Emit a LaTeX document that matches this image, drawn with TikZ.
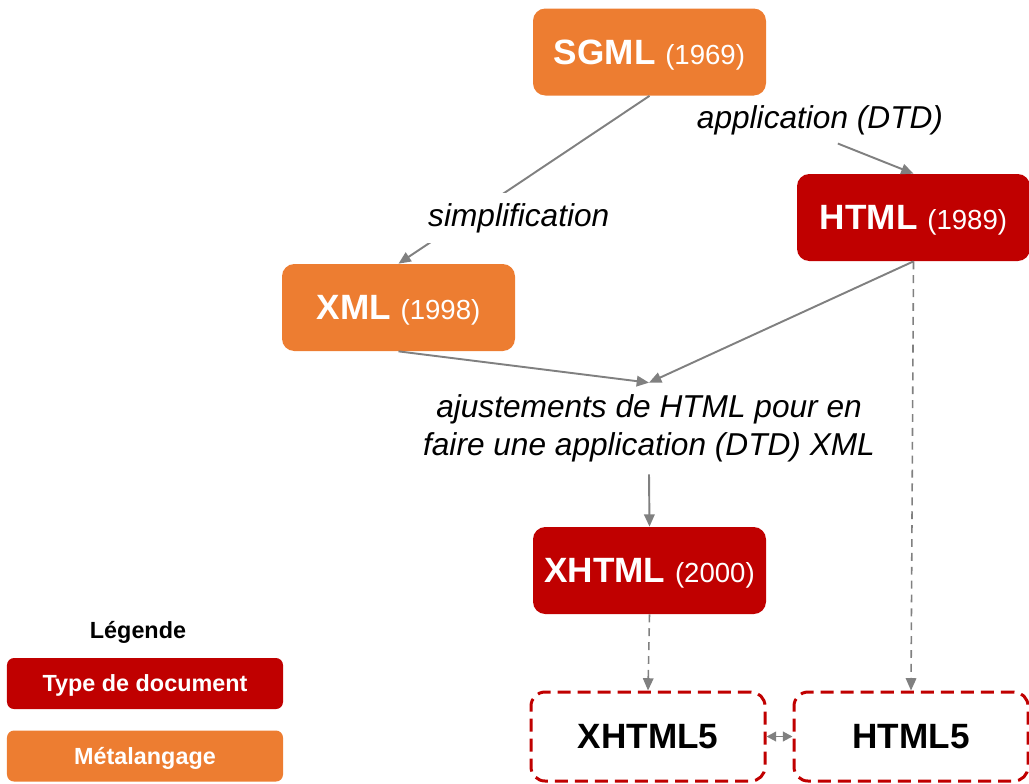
\documentclass[tikz,border=0pt]{standalone}
\usepackage{fontspec}
\setmainfont{Liberation Sans}
\usepackage{xcolor}
\usetikzlibrary{arrows.meta}

\definecolor{docred}{HTML}{C00000}
\definecolor{metaorange}{HTML}{ED7D31}
\definecolor{arrowgray}{HTML}{808080}
\newcommand{\yearof}[1]{{\fontsize{15.7}{18}\selectfont\mdseries (#1)}}

\begin{document}
\begin{tikzpicture}[
    box/.style={rounded corners=7pt,minimum width=4.66cm,minimum height=1.74cm,inner sep=0pt,
      text depth=0pt,text=white,font=\fontsize{20}{24}\selectfont\bfseries},
    doc/.style={box,fill=docred},
    meta/.style={box,fill=metaorange},
    future/.style={draw=docred,line width=1.7pt,dash pattern=on 7.4pt off 4pt,rounded corners=8pt,
      minimum width=4.68cm,minimum height=1.78cm,inner sep=0pt,text depth=0pt,
      font=\fontsize{20}{24}\selectfont\bfseries},
    legbox/.style={rounded corners=4pt,minimum width=5.52cm,minimum height=1.02cm,inner sep=0pt,
      text depth=0pt,text=white,font=\fontsize{13.3}{16}\selectfont\bfseries},
    lbl/.style={font=\fontsize{18}{20.6}\selectfont\itshape,align=center},
    flow/.style={draw=arrowgray,line width=1.1pt,-{Triangle[length=7pt,width=6pt]}},
    flowdash/.style={flow,line width=0.9pt,dash pattern=on 4.5pt off 3.4pt}
  ]
    \useasboundingbox (0,0) rectangle (20.58,-15.66);

    \node[meta] (sgml) at (12.99,-1.04) {SGML \yearof{1969}};
    \node[doc] (html) at (18.27,-4.35) {HTML \yearof{1989}};
    \node[meta] (xml) at (7.97,-6.15) {XML \yearof{1998}};
    \node[lbl,minimum height=1.82cm] (adj) at (12.98,-8.57)
      {ajustements de HTML pour en\\[1pt]faire une application (DTD) XML};
    \node[doc] (xhtml) at (12.99,-11.41) {XHTML \yearof{2000}};
    \node[future] (xhtml5) at (12.96,-14.73) {XHTML5};
    \node[future] (html5) at (18.22,-14.73) {HTML5};

    % legende
    \node[font=\fontsize{13.3}{16}\selectfont\bfseries] (legtitle) at (2.76,-12.64) {Légende};
    \node[legbox,fill=docred] (legdoc) at (2.9,-13.67) {Type de document};
    \node[legbox,fill=metaorange] (legmeta) at (2.9,-15.12) {Métalangage};

    \draw[flow] (sgml.south) -- node[lbl,pos=0.728,xshift=1.04cm,fill=white,inner xsep=4pt,inner ysep=0.2cm] {simplification} (xml.north);
    \draw[flow,shorten <=2.58cm] ([xshift=1.37cm]sgml.south) -- (html.north);
    \node[lbl] (applbl) at (16.4,-2.4) {application (DTD)};
    \draw[flow] (xml.south) -- (adj.north);
    \draw[flow] (html.south) -- (adj.north);
    \draw[flow] (adj.south) -- (xhtml.north);
    \draw[flowdash] (html.south) -- (html5.north);
    \draw[flowdash] (xhtml.south) -- (xhtml5.north);
    \draw[flow,{Triangle[length=5.5pt,width=5.5pt]}-{Triangle[length=5.5pt,width=5.5pt]}] (xhtml5) -- (html5);
\end{tikzpicture}
\end{document}
